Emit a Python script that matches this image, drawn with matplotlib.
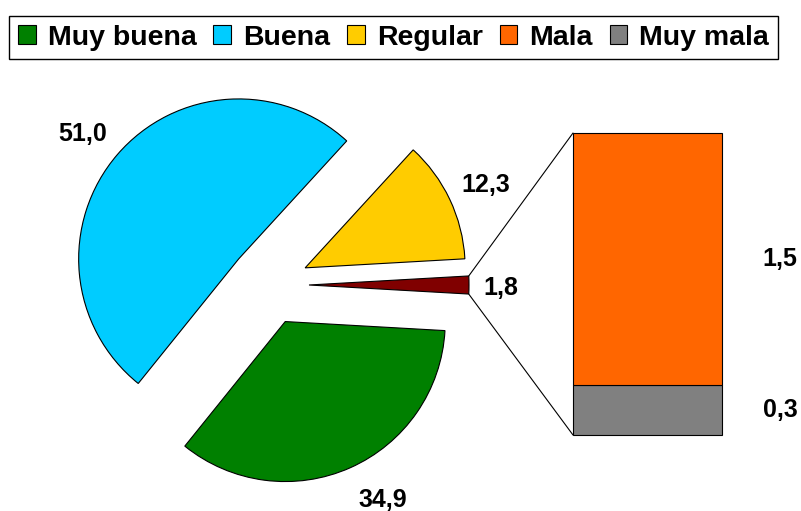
import matplotlib
matplotlib.use("Agg")
import numpy as np
import matplotlib.pyplot as plt
from matplotlib.patches import Patch, ConnectionPatch

plt.rcParams['font.family'] = ['Liberation Sans', 'DejaVu Sans']

# data
pie_labels = ["Muy buena", "Buena", "Regular", "Otros"]
pie_values = [34.9, 51.0, 12.3, 1.8]
pie_colors = ["#008000", "#00CCFF", "#FFCC00", "#800000"]

bar_labels = ["Muy mala", "Mala"]
bar_values = [0.3, 1.5]
bar_colors = ["#808080", "#FF6600"]

legend_labels = ["Muy buena", "Buena", "Regular", "Mala", "Muy mala"]
legend_colors = ["#008000", "#00CCFF", "#FFCC00", "#FF6600", "#808080"]

W, H = 801, 511
fig = plt.figure(figsize=(W / 100, H / 100), dpi=100)

# pie axes: 1 data unit = 160 px, pie centre at (269, 285) px
R = 160.0
cx, cy = 269, 285
ax_l, ax_r, ax_t, ax_b = 0, 560, 70, 511
ax = fig.add_axes([ax_l / W, (H - ax_b) / H, (ax_r - ax_l) / W, (ax_b - ax_t) / H])

start = -pie_values[-1] / 100 * 360 / 2
wedges, _ = ax.pie(pie_values, colors=pie_colors, explode=[0.25] * 4,
                   startangle=start, counterclock=False,
                   wedgeprops=dict(edgecolor="black", linewidth=0.8))
ax.set_xlim((ax_l - cx) / R, (ax_r - cx) / R)
ax.set_ylim((cy - ax_b) / R, (cy - ax_t) / R)
ax.set_aspect('auto')
ax.axis('off')

# value labels around the pie
label_dist = [1.27, 1.25, 1.24, 1.20]
label_shift = [4.8, 2.1, -0.8, -0.9]
for w, v, d, s in zip(wedges, pie_values, label_dist, label_shift):
    mid = np.radians((w.theta1 + w.theta2) / 2 + s)
    x0, y0 = w.center
    ax.text(x0 + d * np.cos(mid), y0 + d * np.sin(mid), f"{v:.1f}".replace(".", ","),
            ha="center", va="center", fontsize=18, fontweight="bold")

# stacked bar for "Otros"
bx_l, bx_r, bx_t, bx_b = 573, 722, 133, 435
ax2 = fig.add_axes([bx_l / W, (H - bx_b) / H, (bx_r - bx_l) / W, (bx_b - bx_t) / H])
bottom = 0
for lab, v, c in zip(bar_labels, bar_values, bar_colors):
    ax2.bar(0, v, width=1.0, bottom=bottom, color=c, edgecolor="black",
            linewidth=0.8, clip_on=False)
    ax2.text(0.89, bottom + v / 2, f"{v:.1f}".replace(".", ","),
             ha="center", va="center", fontsize=18, fontweight="bold")
    bottom += v
ax2.set_xlim(-0.5, 0.5)
ax2.set_ylim(0, sum(bar_values))
ax2.axis('off')

# connector lines from the small wedge to the bar
w = wedges[-1]
x0, y0 = w.center
for th, yb in [(w.theta2, sum(bar_values)), (w.theta1, 0)]:
    t = np.radians(th)
    con = ConnectionPatch(xyA=(x0 + np.cos(t), y0 + np.sin(t)), coordsA=ax.transData,
                          xyB=(-0.5, yb), coordsB=ax2.transData,
                          color="black", linewidth=0.8)
    fig.add_artist(con)

# legend
handles = [Patch(facecolor=c, edgecolor="black", linewidth=0.8) for c in legend_colors]
leg = fig.legend(handles, legend_labels, loc="upper center",
                 bbox_to_anchor=(393.5 / W, 1 - 16 / H), ncol=5,
                 prop=dict(weight="bold", size=20.5), frameon=True, fancybox=False,
                 edgecolor="black", framealpha=1, handlelength=0.62, handleheight=0.62,
                 handletextpad=0.42, columnspacing=0.6, borderpad=0.3, borderaxespad=0)
leg.get_frame().set_linewidth(1.0)

fig.savefig("out.png", dpi=100)
